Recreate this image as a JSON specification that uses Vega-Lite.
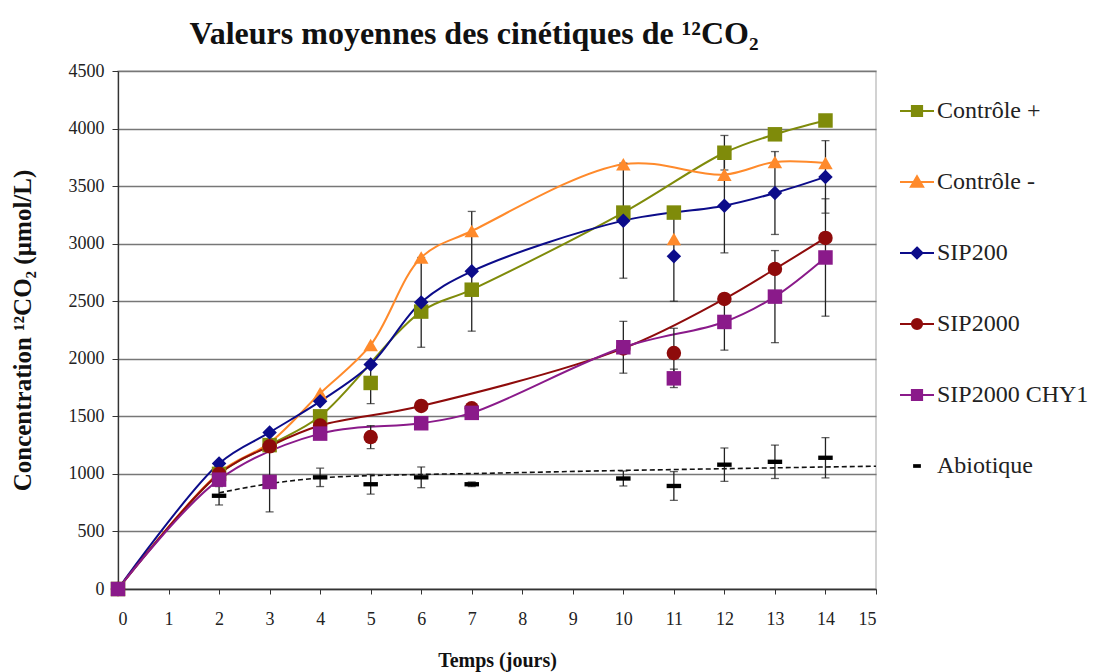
{
  "$schema": "https://vega.github.io/schema/vega-lite/v6.json",
  "width": 758,
  "height": 518,
  "autosize": {"type": "none"},
  "padding": {"left": 118, "top": 71, "right": 220, "bottom": 83},
  "background": "white",
  "title": {
    "text": "Valeurs moyennes des cinétiques de ¹²CO₂",
    "font": "Liberation Serif",
    "fontSize": 32,
    "fontWeight": "bold",
    "color": "#111111",
    "anchor": "middle",
    "dx": -23,
    "offset": 11
  },
  "config": {
    "view": {"stroke": "#c4c4c4", "strokeWidth": 1.5},
    "axis": {"labelFont": "Liberation Serif", "titleFont": "Liberation Serif", "labelColor": "#222222", "titleColor": "#111111"},
    "legend": {
      "labelFont": "Liberation Serif",
      "labelFontSize": 24,
      "labelColor": "#222222",
      "labelOffset": 2,
      "rowPadding": 41,
      "symbolSize": 1156,
      "symbolStrokeWidth": 2,
      "symbolFillColor": "#000000",
      "symbolStrokeColor": "#000000"
    }
  },
  "resolve": {"scale": {"shape": "independent", "fill": "independent", "stroke": "independent"}},
  "datasets": {
    "moyennes": [
      {"serie": "Contrôle +", "jour": 0, "valeur": 0, "relie": true},
      {"serie": "Contrôle +", "jour": 2, "valeur": 1000, "relie": true},
      {"serie": "Contrôle +", "jour": 3, "valeur": 1250, "relie": true},
      {"serie": "Contrôle +", "jour": 4, "valeur": 1500, "relie": true},
      {"serie": "Contrôle +", "jour": 5, "valeur": 1790, "erreur": 180, "relie": false},
      {"serie": "Contrôle +", "jour": 6, "valeur": 2410, "relie": true},
      {"serie": "Contrôle +", "jour": 7, "valeur": 2600, "relie": true},
      {"serie": "Contrôle +", "jour": 10, "valeur": 3270, "relie": true},
      {"serie": "Contrôle +", "jour": 11, "valeur": 3270, "relie": false},
      {"serie": "Contrôle +", "jour": 12, "valeur": 3790, "erreur": 150, "relie": true},
      {"serie": "Contrôle +", "jour": 13, "valeur": 3950, "relie": true},
      {"serie": "Contrôle +", "jour": 14, "valeur": 4070, "relie": true},
      {"serie": "Contrôle -", "jour": 0, "valeur": 0, "relie": true},
      {"serie": "Contrôle -", "jour": 2, "valeur": 1010, "relie": true},
      {"serie": "Contrôle -", "jour": 3, "valeur": 1270, "relie": true},
      {"serie": "Contrôle -", "jour": 4, "valeur": 1700, "relie": true},
      {"serie": "Contrôle -", "jour": 5, "valeur": 2120, "relie": true},
      {"serie": "Contrôle -", "jour": 6, "valeur": 2880, "relie": true},
      {"serie": "Contrôle -", "jour": 7, "valeur": 3110, "relie": true},
      {"serie": "Contrôle -", "jour": 10, "valeur": 3690, "relie": true},
      {"serie": "Contrôle -", "jour": 11, "valeur": 3040, "relie": false},
      {"serie": "Contrôle -", "jour": 12, "valeur": 3600, "relie": true},
      {"serie": "Contrôle -", "jour": 13, "valeur": 3710, "relie": true},
      {"serie": "Contrôle -", "jour": 14, "valeur": 3700, "relie": true},
      {"serie": "SIP200", "jour": 0, "valeur": 0, "relie": true},
      {"serie": "SIP200", "jour": 2, "valeur": 1090, "relie": true},
      {"serie": "SIP200", "jour": 3, "valeur": 1360, "relie": true},
      {"serie": "SIP200", "jour": 4, "valeur": 1630, "relie": true},
      {"serie": "SIP200", "jour": 5, "valeur": 1950, "relie": true},
      {"serie": "SIP200", "jour": 6, "valeur": 2490, "erreur": 390, "relie": true},
      {"serie": "SIP200", "jour": 7, "valeur": 2760, "erreur": 520, "relie": true},
      {"serie": "SIP200", "jour": 10, "valeur": 3200, "erreur": 500, "relie": true},
      {"serie": "SIP200", "jour": 11, "valeur": 2890, "erreur": 390, "relie": false},
      {"serie": "SIP200", "jour": 12, "valeur": 3330, "erreur": 410, "relie": true},
      {"serie": "SIP200", "jour": 13, "valeur": 3440, "erreur": 360, "relie": true},
      {"serie": "SIP200", "jour": 14, "valeur": 3580, "erreur": 315, "relie": true},
      {"serie": "SIP2000", "jour": 0, "valeur": 0, "relie": true},
      {"serie": "SIP2000", "jour": 2, "valeur": 1000, "relie": true},
      {"serie": "SIP2000", "jour": 3, "valeur": 1240, "relie": true},
      {"serie": "SIP2000", "jour": 4, "valeur": 1420, "relie": true},
      {"serie": "SIP2000", "jour": 5, "valeur": 1320, "erreur": 100, "relie": false},
      {"serie": "SIP2000", "jour": 6, "valeur": 1590, "relie": true},
      {"serie": "SIP2000", "jour": 7, "valeur": 1570, "relie": false},
      {"serie": "SIP2000", "jour": 10, "valeur": 2090, "relie": true},
      {"serie": "SIP2000", "jour": 11, "valeur": 2050, "erreur": 215, "relie": false},
      {"serie": "SIP2000", "jour": 12, "valeur": 2520, "relie": true},
      {"serie": "SIP2000", "jour": 13, "valeur": 2780, "relie": true},
      {"serie": "SIP2000", "jour": 14, "valeur": 3050, "relie": true},
      {"serie": "SIP2000 CHY1", "jour": 0, "valeur": 0, "relie": true},
      {"serie": "SIP2000 CHY1", "jour": 2, "valeur": 950, "relie": true},
      {"serie": "SIP2000 CHY1", "jour": 3, "valeur": 930, "erreur": 260, "relie": false},
      {"serie": "SIP2000 CHY1", "jour": 4, "valeur": 1350, "relie": true},
      {"serie": "SIP2000 CHY1", "jour": 6, "valeur": 1440, "relie": true},
      {"serie": "SIP2000 CHY1", "jour": 7, "valeur": 1530, "relie": true},
      {"serie": "SIP2000 CHY1", "jour": 10, "valeur": 2100, "erreur": 225, "relie": true},
      {"serie": "SIP2000 CHY1", "jour": 11, "valeur": 1830, "erreur": 80, "relie": false},
      {"serie": "SIP2000 CHY1", "jour": 12, "valeur": 2320, "erreur": 245, "relie": true},
      {"serie": "SIP2000 CHY1", "jour": 13, "valeur": 2540, "erreur": 400, "relie": true},
      {"serie": "SIP2000 CHY1", "jour": 14, "valeur": 2880, "erreur": 510, "relie": true},
      {"serie": "Abiotique", "jour": 2, "valeur": 810, "erreur": 80, "relie": false},
      {"serie": "Abiotique", "jour": 4, "valeur": 970, "erreur": 80, "relie": false},
      {"serie": "Abiotique", "jour": 5, "valeur": 910, "erreur": 85, "relie": false},
      {"serie": "Abiotique", "jour": 6, "valeur": 970, "erreur": 90, "relie": false},
      {"serie": "Abiotique", "jour": 7, "valeur": 910, "erreur": 20, "relie": false},
      {"serie": "Abiotique", "jour": 10, "valeur": 960, "erreur": 65, "relie": false},
      {"serie": "Abiotique", "jour": 11, "valeur": 895, "erreur": 125, "relie": false},
      {"serie": "Abiotique", "jour": 12, "valeur": 1080, "erreur": 145, "relie": false},
      {"serie": "Abiotique", "jour": 13, "valeur": 1105, "erreur": 145, "relie": false},
      {"serie": "Abiotique", "jour": 14, "valeur": 1140, "erreur": 175, "relie": false}
    ],
    "tendance": [
      {"jour": 2, "valeur": 835},
      {"jour": 3, "valeur": 915},
      {"jour": 4, "valeur": 965},
      {"jour": 5, "valeur": 985},
      {"jour": 6, "valeur": 995},
      {"jour": 7, "valeur": 1003},
      {"jour": 10, "valeur": 1030},
      {"jour": 12, "valeur": 1045},
      {"jour": 14, "valeur": 1060},
      {"jour": 15, "valeur": 1067}
    ]
  },
  "data": {"name": "moyennes"},
  "encoding": {
    "x": {
      "field": "jour",
      "type": "quantitative",
      "scale": {"domain": [0, 15], "nice": false},
      "axis": {
        "title": "Temps (jours)",
        "values": [0, 1, 2, 3, 4, 5, 6, 7, 8, 9, 10, 11, 12, 13, 14, 15],
        "format": "d",
        "grid": false,
        "domainColor": "#333333",
        "domainWidth": 1.3,
        "tickColor": "#333333",
        "tickSize": 5,
        "labelFontSize": 18,
        "labelPadding": 16,
        "titleFontSize": 20,
        "titleFontWeight": "bold",
        "titlePadding": 22
      }
    },
    "y": {
      "field": "valeur",
      "type": "quantitative",
      "scale": {"domain": [0, 4500], "nice": false},
      "axis": {
        "title": "Concentration ¹²CO₂ (µmol/L)",
        "values": [0, 500, 1000, 1500, 2000, 2500, 3000, 3500, 4000, 4500],
        "format": "d",
        "grid": true,
        "gridColor": "#777777",
        "gridWidth": 1.3,
        "domainColor": "#333333",
        "domainWidth": 1.3,
        "tickColor": "#333333",
        "tickSize": 6,
        "labelFontSize": 18,
        "labelPadding": 8,
        "titleFontSize": 25,
        "titleFontWeight": "bold",
        "titlePadding": 33
      }
    }
  },
  "layer": [
    {
      "transform": [{"filter": "datum.relie && datum.serie !== 'Abiotique'"}],
      "mark": {"type": "line", "interpolate": "catmull-rom", "strokeWidth": 2},
      "encoding": {
        "color": {
          "field": "serie",
          "type": "nominal",
          "scale": {
            "domain": ["Contrôle +", "Contrôle -", "SIP200", "SIP2000", "SIP2000 CHY1", "Abiotique"],
            "range": ["#7f8b0a", "#ff8a2b", "#0c0c8a", "#8e0b0b", "#8a1a8a", "#000000"]
          },
          "legend": null
        }
      }
    },
    {
      "data": {"name": "tendance"},
      "mark": {"type": "line", "interpolate": "monotone", "color": "#111111", "strokeDash": [5, 3], "strokeWidth": 1.6},
      "encoding": {}
    },
    {
      "transform": [{"filter": "isValid(datum.erreur)"}],
      "mark": {"type": "errorbar", "ticks": {"size": 8, "color": "#222222"}, "color": "#222222", "thickness": 1.3},
      "encoding": {"yError": {"field": "erreur"}}
    },
    {
      "mark": {"type": "point", "filled": true, "opacity": 1},
      "encoding": {
        "color": {
          "field": "serie",
          "type": "nominal",
          "scale": {
            "domain": ["Contrôle +", "Contrôle -", "SIP200", "SIP2000", "SIP2000 CHY1", "Abiotique"],
            "range": ["#7f8b0a", "#ff8a2b", "#0c0c8a", "#8e0b0b", "#8a1a8a", "#000000"]
          },
          "legend": null
        },
        "shape": {
          "field": "serie",
          "type": "nominal",
          "scale": {
            "domain": ["Contrôle +", "Contrôle -", "SIP200", "SIP2000", "SIP2000 CHY1", "Abiotique"],
            "range": ["square", "triangle-up", "diamond", "circle", "square", "M-1,-0.3H1V0.3H-1Z"]
          },
          "legend": null
        },
        "size": {
          "field": "serie",
          "type": "nominal",
          "scale": {
            "domain": ["Contrôle +", "Contrôle -", "SIP200", "SIP2000", "SIP2000 CHY1", "Abiotique"],
            "range": [210, 210, 180, 240, 210, 64]
          },
          "legend": null
        }
      }
    },
    {
      "transform": [{"filter": "datum.jour === 0 && datum.serie === 'SIP2000 CHY1'"}],
      "mark": {"type": "point", "filled": true, "opacity": 0, "strokeWidth": 2},
      "encoding": {
        "fill": {
          "field": "serie",
          "type": "nominal",
          "scale": {
            "domain": ["Contrôle +", "Contrôle -", "SIP200", "SIP2000", "SIP2000 CHY1", "Abiotique"],
            "range": ["#7f8b0a", "#ff8a2b", "#0c0c8a", "#8e0b0b", "#8a1a8a", "#000000"]
          },
          "legend": {"orient": "none", "legendX": 781, "legendY": 22, "title": null, "labelFont": "Liberation Serif", "labelFontSize": 24}
        },
        "stroke": {
          "field": "serie",
          "type": "nominal",
          "scale": {
            "domain": ["Contrôle +", "Contrôle -", "SIP200", "SIP2000", "SIP2000 CHY1", "Abiotique"],
            "range": ["#7f8b0a", "#ff8a2b", "#0c0c8a", "#8e0b0b", "#8a1a8a", "#000000"]
          },
          "legend": {"orient": "none", "legendX": 781, "legendY": 22, "title": null, "labelFont": "Liberation Serif", "labelFontSize": 24}
        },
        "shape": {
          "field": "serie",
          "type": "nominal",
          "scale": {
            "domain": ["Contrôle +", "Contrôle -", "SIP200", "SIP2000", "SIP2000 CHY1", "Abiotique"],
            "range": [
              "M-1,0H1M-0.3,-0.3H0.3V0.3H-0.3Z",
              "M-1,0H1M0,-0.34L0.36,0.28H-0.36Z",
              "M-1,0H1M0,-0.32L0.32,0L0,0.32L-0.32,0Z",
              "M-1,0H1M-0.3,0A0.3,0.3 0 1,0 0.3,0A0.3,0.3 0 1,0 -0.3,0Z",
              "M-1,0H1M-0.3,-0.3H0.3V0.3H-0.3Z",
              "M-0.17,-0.05H0.17V0.05H-0.17Z"
            ]
          },
          "legend": {"orient": "none", "legendX": 781, "legendY": 22, "title": null, "labelFont": "Liberation Serif", "labelFontSize": 24}
        }
      }
    }
  ]
}
